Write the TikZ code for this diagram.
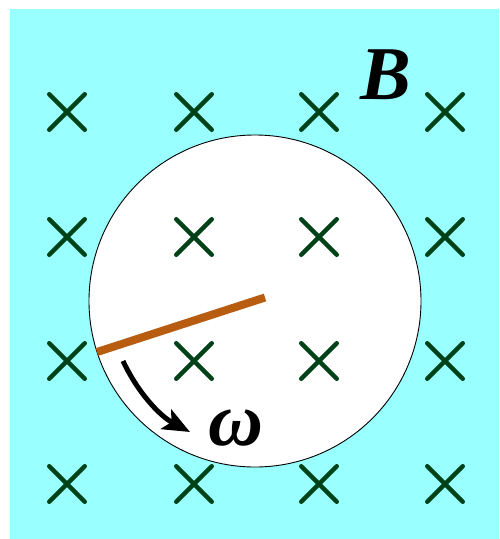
\documentclass[tikz,border=0pt]{standalone}
\usepackage{fontspec}
\setmainfont{Liberation Serif}
\usetikzlibrary{shapes.misc,arrows.meta}
\definecolor{bgcyan}{RGB}{153,255,255}
\definecolor{xgreen}{RGB}{0,66,24}
\definecolor{rodc}{RGB}{184,92,16}
\tikzset{
  xmark/.style={cross out, draw=xgreen, line width=4.5pt, line cap=round, minimum size=31pt, inner sep=0pt},
  disc/.style={circle, draw=black, line width=0.9pt, fill=white, minimum size=332pt, inner sep=0pt},
  rod/.style={draw=rodc, line width=8pt},
  spin/.style={draw=black, line width=5pt, -{Stealth[length=27pt,width=22pt,inset=6pt]}},
  lbl/.style={inner sep=0pt, font=\fontsize{76}{80}\selectfont\bfseries\itshape}
}
\begin{document}
\begin{tikzpicture}[x=1pt,y=-1pt]
\useasboundingbox (0,0) rectangle (499,539);
\fill[bgcyan] (10,9) rectangle (499,539);
\node[disc] (disc) at (255,301) {};
\foreach \i/\x in {1/67,2/194,3/319,4/445}{
  \foreach \j/\y in {1/112,2/237,3/361,4/484}{
    \node[xmark] (x\i\j) at (\x,\y) {};
  }
}
\coordinate (hub) at (265,297.5);
\coordinate (tip) at (97,352);
\draw[rod] (hub) -- (tip);
\coordinate (a0) at (123,361);
\coordinate (a1) at (190,432);
\draw[spin] (a0) .. controls (138,393) and (160,416) .. (a1);
\node[lbl] (B) at (386,75) {B};
\node[lbl] (w) at (236,428) {ω};
\end{tikzpicture}
\end{document}
